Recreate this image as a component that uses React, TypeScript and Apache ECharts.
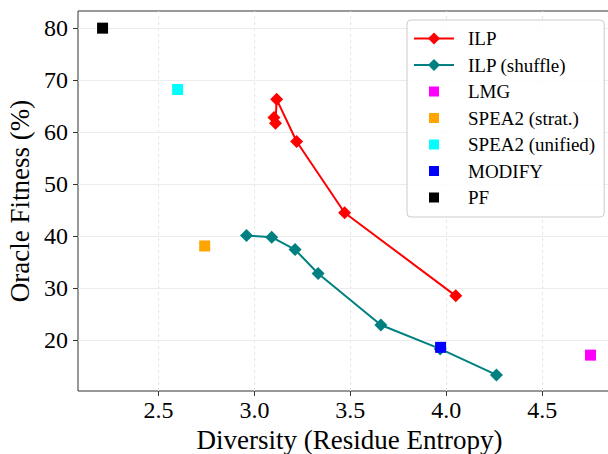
import React, { useEffect, useRef } from "react";
import * as echarts from "echarts";

const ilpX = [3.102, 3.110, 3.116, 3.220, 3.470, 4.049];
const ilpY = [62.8, 61.7, 66.3, 58.2, 44.5, 28.5];
const shufX = [2.959, 3.090, 3.212, 3.332, 3.659, 3.968, 4.261];
const shufY = [40.1, 39.8, 37.4, 32.8, 22.9, 18.3, 13.3];
const lmg = [[4.751, 17.1]];
const speaStrat = [[2.741, 38.1]];
const speaUnified = [[2.600, 68.2]];
const modify = [[3.970, 18.6]];
const pf = [[2.209, 80.0]];
const xTicks = [2.5, 3.0, 3.5, 4.0, 4.5];
const yTicks = [20, 30, 40, 50, 60, 70, 80];
const seriesNames = ["ILP", "ILP (shuffle)", "LMG", "SPEA2 (strat.)", "SPEA2 (unified)", "MODIFY", "PF"];

const FONT = "'Liberation Serif', 'Times New Roman', serif";
const SQ = "path://M0,0L0.01,0L0,0.01Z M2.5,2.5H12.5V12.5H2.5Z M15,15L14.99,15L15,14.99Z";

export default function App() {
  const ref = useRef<HTMLDivElement>(null);
  useEffect(() => {
    const chart = echarts.init(ref.current!, null, { renderer: "svg" });
    const zip = (xs: number[], ys: number[]) => xs.map((x, i) => [x, ys[i]]);
    const sq = (name: string, data: number[][], color: string) => ({
      name,
      type: "scatter",
      data,
      symbol: "rect",
      symbolSize: 11,
      itemStyle: { color, opacity: 1 },
      emphasis: { disabled: true },
      z: 4,
    });
    chart.setOption({
      animation: false,
      grid: {
        left: 78,
        top: 11,
        bottom: 63,
        right: 0,
        outerBoundsMode: "none",
        containLabel: false,
        show: true,
        borderColor: "#333",
        borderWidth: 1,
        backgroundColor: "transparent",
      },
      xAxis: {
        type: "value",
        min: 2.081,
        max: 4.91,
        name: "Diversity (Residue Entropy)",
        nameLocation: "middle",
        nameGap: 32,
        nameTextStyle: { fontFamily: FONT, fontSize: 27, color: "#000" },
        axisLine: { show: false },
        axisTick: { show: true, length: 5, customValues: xTicks, lineStyle: { color: "#333" } },
        axisLabel: {
          customValues: xTicks,
          formatter: (v: number) => v.toFixed(1),
          fontFamily: FONT,
          fontSize: 24,
          color: "#000",
          margin: 7,
        },
        splitLine: { show: false },
      },
      yAxis: {
        type: "value",
        min: 10.2,
        max: 83.3,
        name: "Oracle Fitness (%)",
        nameLocation: "middle",
        nameGap: 42,
        nameTextStyle: { fontFamily: FONT, fontSize: 27, color: "#000" },
        axisLine: { show: false },
        axisTick: { show: true, length: 5, customValues: yTicks, lineStyle: { color: "#333" } },
        axisLabel: {
          customValues: yTicks,
          formatter: (v: number) => String(Math.round(v)),
          fontFamily: FONT,
          fontSize: 24,
          color: "#000",
          margin: 10,
        },
        splitLine: { show: false },
      },
      legend: {
        orient: "vertical",
        left: 407,
        top: 20,
        padding: [9, 9, 10, 6],
        itemWidth: 40,
        itemHeight: 15,
        itemGap: 7.5,
        backgroundColor: "rgba(255,255,255,0.85)",
        borderColor: "#cccccc",
        borderWidth: 1,
        borderRadius: 4,
        textStyle: { fontFamily: FONT, fontSize: 19, color: "#000", padding: [0, 0, 0, 9] },
        data: [
          { name: seriesNames[0] },
          { name: seriesNames[1] },
          { name: seriesNames[2], icon: SQ },
          { name: seriesNames[3], icon: SQ },
          { name: seriesNames[4], icon: SQ },
          { name: seriesNames[5], icon: SQ },
          { name: seriesNames[6], icon: SQ },
        ],
      },
      series: [
        {
          name: "grid",
          type: "line",
          data: [],
          silent: true,
          z: 0,
          markLine: {
            silent: true,
            z: 0,
            symbol: "none",
            label: { show: false },
            emphasis: { disabled: true },
            data: [
              ...xTicks.map((v) => ({ xAxis: v, lineStyle: { color: "#e6e6e6", type: [3, 3], width: 1 } })),
              ...yTicks.map((v) => ({ yAxis: v, lineStyle: { color: "#ececec", type: "solid", width: 1 } })),
            ],
          },
        },
        {
          name: seriesNames[0],
          type: "line",
          data: zip(ilpX, ilpY),
          symbol: "diamond",
          symbolSize: 13,
          itemStyle: { color: "#ff0000" },
          lineStyle: { color: "#ff0000", width: 2 },
          emphasis: { disabled: true },
          z: 3,
        },
        {
          name: seriesNames[1],
          type: "line",
          data: zip(shufX, shufY),
          symbol: "diamond",
          symbolSize: 13,
          itemStyle: { color: "#008080" },
          lineStyle: { color: "#008080", width: 2 },
          emphasis: { disabled: true },
          z: 3,
        },
        sq(seriesNames[2], lmg, "#ff00ff"),
        sq(seriesNames[3], speaStrat, "#ffa500"),
        sq(seriesNames[4], speaUnified, "#00ffff"),
        sq(seriesNames[5], modify, "#0000ff"),
        sq(seriesNames[6], pf, "#000000"),
      ],
    });
    return () => chart.dispose();
  }, []);
  return (
    <div style={{ position: "fixed", left: 0, top: 0, width: 608, height: 454, overflow: "hidden", background: "#fff" }}>
      <div ref={ref} style={{ width: 621, height: 454 }} />
    </div>
  );
}
